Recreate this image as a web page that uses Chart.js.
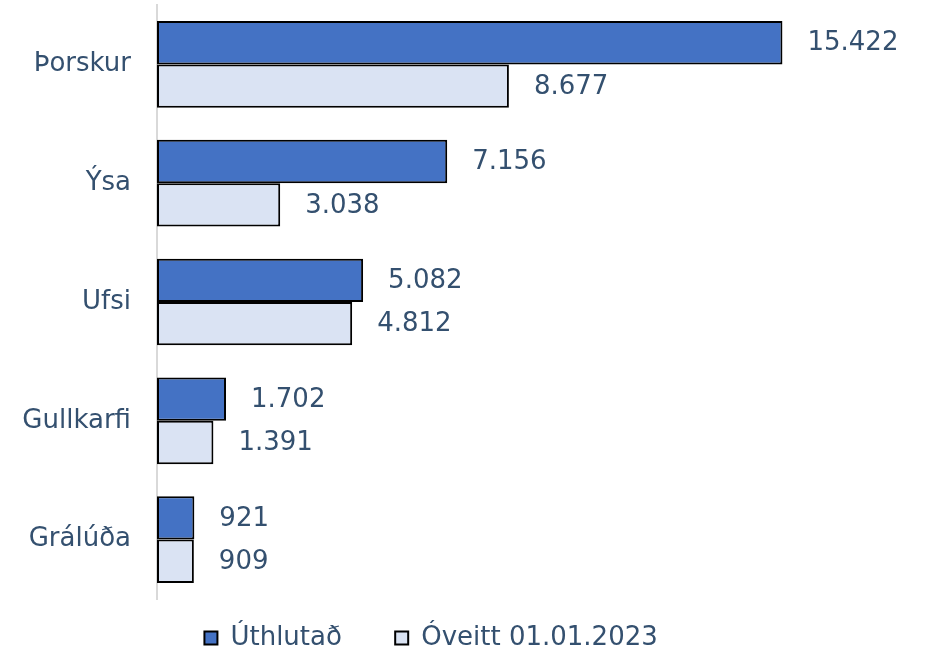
<!DOCTYPE html>
<html>
<head>
<meta charset="utf-8">
<script src="https://cdn.jsdelivr.net/npm/chart.js@4.4.1/dist/chart.umd.min.js"></script>
<style>
  html, body { margin: 0; padding: 0; background: #fff; }
  #wrap { width: 926px; height: 654px; }
</style>
</head>
<body>
<div id="wrap"><canvas id="fishChart" width="926" height="654"></canvas></div>
<script>
// Data
const categories = ['Þorskur', 'Ýsa', 'Ufsi', 'Gullkarfi', 'Grálúða'];
const allocated = [15422, 7156, 5082, 1702, 921];
const unfished = [8677, 3038, 4812, 1391, 909];
const seriesNames = ['Úthlutað', 'Óveitt 01.01.2023'];

const textColor = '#34506f';
const fontFamily = '"DejaVu Sans", Verdana, sans-serif';
const fontSize = 26;

// Icelandic style thousands separator
function fmt(v) {
    return v.toLocaleString('en-US').replace(/,/g, '.');
}

// Value labels to the right of each bar
const valueLabels = {
    id: 'valueLabels',
    afterDatasetsDraw(chart) {
        const c = chart.ctx;
        c.save();
        c.font = fontSize + 'px ' + fontFamily;
        c.fillStyle = textColor;
        c.textAlign = 'left';
        c.textBaseline = 'middle';
        chart.data.datasets.forEach((ds, i) => {
            chart.getDatasetMeta(i).data.forEach((bar, j) => {
                c.fillText(fmt(ds.data[j]), bar.x + 25, bar.y + 1);
            });
        });
        c.restore();
    }
};

const ctx = document.getElementById('fishChart').getContext('2d');
const fishChart = new Chart(ctx, {
    type: 'bar',
    data: {
        labels: categories,
        datasets: [{
            label: seriesNames[0],
            data: allocated,
            backgroundColor: '#4472c4',
            borderColor: '#000000',
            borderWidth: 2,
            borderSkipped: false
        }, {
            label: seriesNames[1],
            data: unfished,
            backgroundColor: '#dae3f3',
            borderColor: '#000000',
            borderWidth: 2,
            borderSkipped: false
        }]
    },
    options: {
        indexAxis: 'y',
        responsive: false,
        animation: false,
        layout: {
            padding: { top: 5, right: 39, bottom: -7, left: 0 }
        },
        datasets: {
            bar: {
                categoryPercentage: 0.73,
                barPercentage: 1
            }
        },
        scales: {
            x: {
                display: true,
                min: 0,
                max: 18000,
                grid: { display: false },
                border: { display: false },
                ticks: { display: false },
                // empty gap between plot and legend
                afterFit(scale) { scale.height = 14; }
            },
            y: {
                afterFit(scale) {
                    scale.width = 157;
                    scale.paddingTop = 0;
                    scale.paddingBottom = 0;
                },
                grid: { display: false, drawTicks: false },
                border: { display: true, color: '#d9d9d9', width: 2 },
                ticks: {
                    color: textColor,
                    padding: 26,
                    font: { family: fontFamily, size: fontSize }
                }
            }
        },
        plugins: {
            legend: {
                position: 'bottom',
                labels: {
                    color: textColor,
                    boxWidth: 13,
                    boxHeight: 13,
                    padding: 12,
                    font: { family: fontFamily, size: fontSize },
                    generateLabels(chart) {
                        const items = Chart.defaults.plugins.legend.labels.generateLabels(chart);
                        items[0].text = items[0].text + '     ';
                        items[1].text = items[1].text + '   ';
                        return items;
                    }
                }
            },
            tooltip: { enabled: false }
        }
    },
    plugins: [valueLabels]
});
</script>
</body>
</html>
